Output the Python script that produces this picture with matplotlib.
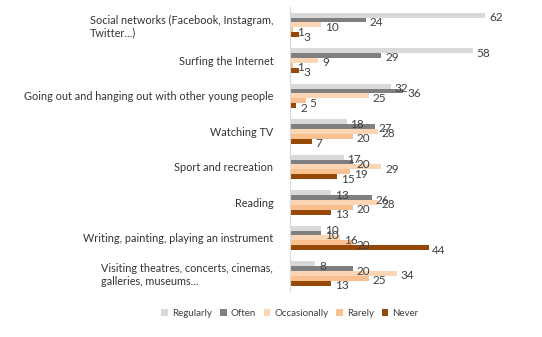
import numpy as np
import matplotlib.pyplot as plt

categories = [
    "Social networks (Facebook, Instagram,\nTwitter...)",
    "Surfing the Internet",
    "Going out and hanging out with other young people",
    "Watching TV",
    "Sport and recreation",
    "Reading",
    "Writing, painting, playing an instrument",
    "Visiting theatres, concerts, cinemas,\ngalleries, museums...",
]
series_names = ["Regularly", "Often", "Occasionally", "Rarely", "Never"]
regularly = [62, 58, 32, 18, 17, 13, 10, 8]
often = [24, 29, 36, 27, 20, 26, 10, 20]
occasionally = [10, 9, 25, 28, 29, 28, 16, 34]
rarely = [1, 1, 5, 20, 19, 20, 20, 25]
never = [3, 3, 2, 7, 15, 13, 44, 13]
colors = ["#d9d9d9", "#7f7f7f", "#fcd5b5", "#fac090", "#974706"]

series = [regularly, often, occasionally, rarely, never]

plt.rcParams['font.family'] = ['Lato', 'DejaVu Sans']

fig = plt.figure(figsize=(5.42, 3.37), dpi=100)
ax = fig.add_axes([0.535, 0.136, 0.43, 0.843])

y = np.arange(len(categories))
h = 0.137
for i, (name, vals, c) in enumerate(zip(series_names, series, colors)):
    pos = y + (i - 2) * h
    ax.barh(pos, vals, height=h, color=c, label=name)
    for p, v in zip(pos, vals):
        ax.text(v + 1.2, p + 0.07, str(v), va='center', ha='left',
                fontsize=8.5, color='#404040')

ax.set_ylim(len(categories) - 0.5, -0.5)
ax.set_xlim(0, 74)
ax.set_yticks(y)
ax.set_yticklabels(categories, fontsize=7.8, color='#333333',
                   multialignment='left')
ax.tick_params(axis='y', length=0, pad=12)
ax.set_xticks([])
for s in ['top', 'right', 'bottom']:
    ax.spines[s].set_visible(False)
ax.spines['left'].set_color('#d9d9d9')

fig.legend(loc='center', bbox_to_anchor=(0.535, 0.07), ncol=5, frameon=False,
           fontsize=7, handlelength=0.7, handleheight=0.7,
           columnspacing=0.8, handletextpad=0.4, labelcolor='#404040')

fig.savefig('out.png', dpi=100)
